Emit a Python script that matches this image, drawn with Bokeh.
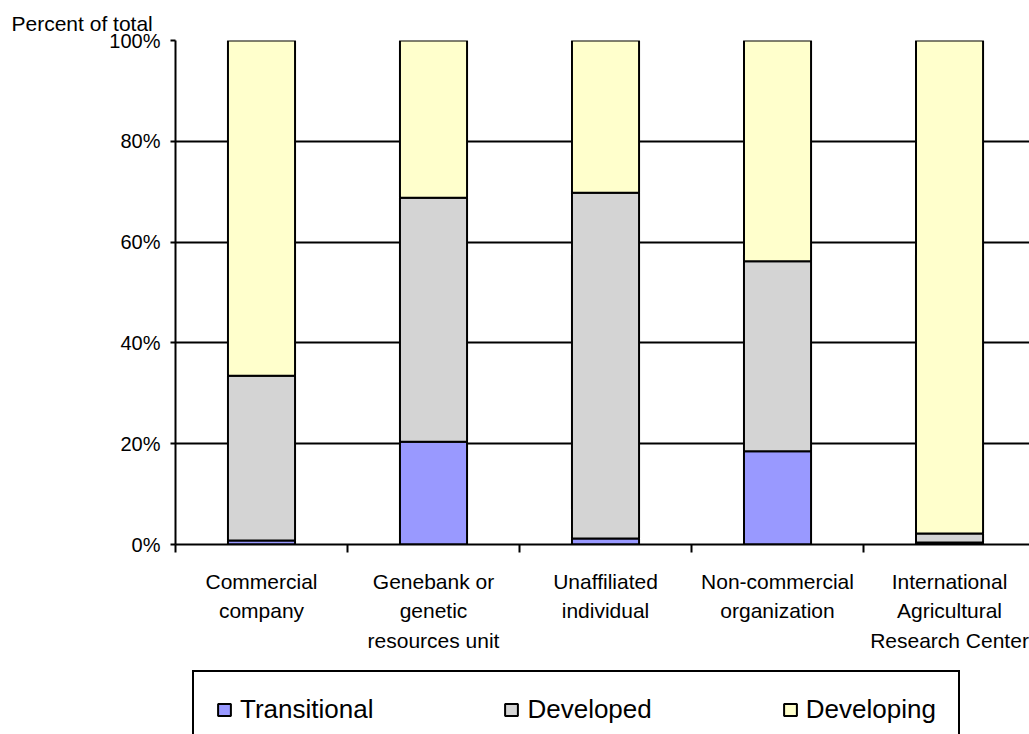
from bokeh.plotting import figure
from bokeh.layouts import column
from bokeh.models import FixedTicker, Legend, LegendItem, ColumnDataSource
from bokeh.embed import file_html
from bokeh.resources import INLINE

categories = ["Commercial\ncompany", "Genebank or\ngenetic\nresources unit",
              "Unaffiliated\nindividual", "Non-commercial\norganization",
              "International\nAgricultural\nResearch Center"]
transitional = [0.8, 20.4, 1.2, 18.5, 0.4]
developed = [32.7, 48.4, 68.6, 37.7, 1.8]
developing = [66.5, 31.2, 30.2, 43.8, 97.8]
series = ["Transitional", "Developed", "Developing"]
colors = ["#9999FF", "#D4D4D4", "#FFFFCC"]
y_ticks = [0, 20, 40, 60, 80, 100]
y_tick_labels = ["0%", "20%", "40%", "60%", "80%", "100%"]
grid_ticks = [20, 40, 60, 80]

FONT = "Liberation Sans"
n = len(categories)
centers = [i + 0.5 for i in range(n)]
bounds = list(range(n + 1))

src = ColumnDataSource(dict(x=centers, Transitional=transitional,
                            Developed=developed, Developing=developing))

p = figure(width=1029, height=660, x_range=(0, 4.965), y_range=(0, 100),
           output_backend="svg", toolbar_location=None,
           min_border_left=175, min_border_right=0, min_border_top=40,
           min_border_bottom=116)
p.outline_line_color = None
p.background_fill_color = "white"

p.vbar_stack(series, x="x", width=0.39, source=src,
             fill_color=colors, line_color="black", line_width=2)

# y axis
p.yaxis.ticker = FixedTicker(ticks=y_ticks)
p.yaxis.major_label_overrides = {t: l for t, l in zip(y_ticks, y_tick_labels)}
p.yaxis.major_tick_out = 5
p.yaxis.major_tick_in = 0
p.yaxis.minor_tick_out = 0
p.yaxis.minor_tick_in = 0
p.yaxis.major_tick_line_color = "black"
p.yaxis.major_tick_line_width = 2
p.yaxis.axis_line_color = "black"
p.yaxis.axis_line_width = 2
p.yaxis.major_label_text_font = FONT
p.yaxis.major_label_text_font_size = "20px"
p.yaxis.major_label_text_color = "black"
p.yaxis.major_label_standoff = 10

# x axis
p.xaxis.ticker = FixedTicker(ticks=centers, minor_ticks=bounds)
p.xaxis.major_label_overrides = {c: l for c, l in zip(centers, categories)}
p.xaxis.major_tick_out = 0
p.xaxis.major_tick_in = 0
p.xaxis.minor_tick_out = 8
p.xaxis.minor_tick_in = 0
p.xaxis.minor_tick_line_color = "black"
p.xaxis.minor_tick_line_width = 2
p.xaxis.axis_line_color = "black"
p.xaxis.axis_line_width = 2
p.xaxis.major_label_text_font = FONT
p.xaxis.major_label_text_font_size = "21px"
p.xaxis.major_label_text_line_height = 1.3
p.xaxis.major_label_text_color = "black"
p.xaxis.major_label_standoff = 17

# grid
p.xgrid.visible = False
p.ygrid.ticker = FixedTicker(ticks=grid_ticks)
p.ygrid.grid_line_color = "black"
p.ygrid.grid_line_width = 2

# title
p.title.text = "Percent of total"
p.title.align = "left"
p.title.offset = -164
p.title.text_font = FONT
p.title.text_font_size = "21px"
p.title.text_font_style = "normal"
p.title.text_color = "black"
p.title.standoff = 12

# legend strip: same series styles; renderers hidden, used only for legend swatches
p2 = figure(width=1029, height=74, x_range=(0, 4.965), y_range=(-1000, -999),
            output_backend="svg", toolbar_location=None,
            x_axis_type=None, y_axis_type=None, min_border=0)
p2.outline_line_color = None
p2.grid.visible = False
legend_renderers = p2.vbar_stack(series, x="x", width=0.39, source=src,
                                 fill_color=colors, line_color="black", line_width=2)
for r in legend_renderers:
    r.visible = False

legend = Legend(items=[LegendItem(label=s, renderers=[r]) for s, r in zip(series, legend_renderers)],
                orientation="horizontal", location=(17, -15),
                glyph_width=16, glyph_height=15, label_standoff=8,
                label_text_font=FONT, label_text_font_size="26px",
                label_text_color="black", spacing=130,
                padding=22, border_line_color="black", border_line_width=2,
                border_line_alpha=1,
                background_fill_color="white", background_fill_alpha=1)
p2.add_layout(legend)

open("out.html", "w").write(file_html(column(p, p2, spacing=0), INLINE))
